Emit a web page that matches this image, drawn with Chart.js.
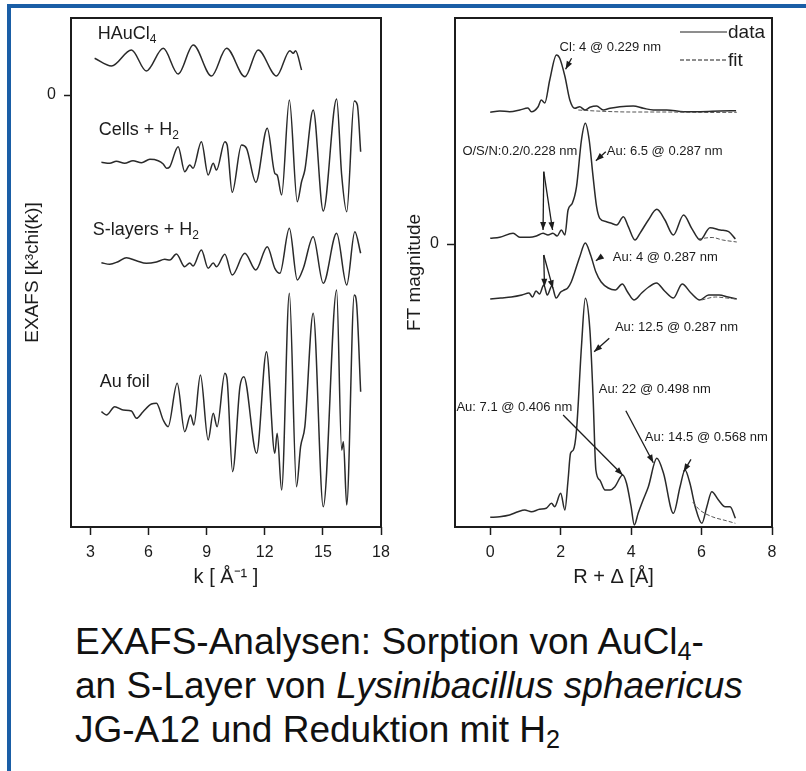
<!DOCTYPE html>
<html>
<head>
<meta charset="utf-8">
<script src="https://cdn.jsdelivr.net/npm/chart.js@4.4.1/dist/chart.umd.min.js"></script>
<style>
  body { margin: 0; background: #fff; }
  #page { position: relative; width: 806px; height: 771px; overflow: hidden; background: #fff; }
  .blue { position: absolute; background: #1a5ea6; }
  canvas { position: absolute; top: 0; }
  #cap { position: absolute; left: 75px; top: 620px; font: 37px/44px "Liberation Sans", Arial, sans-serif; color: #111; white-space: nowrap; }
  #cap sub { font-size: 0.68em; vertical-align: -0.22em; line-height: 0; }
</style>
</head>
<body>
<div id="page">
  <div class="blue" style="left:7px; top:4px; width:799px; height:4px;"></div>
  <div class="blue" style="left:7px; top:4px; width:4px; height:767px;"></div>
  <canvas id="exafs" width="400" height="600" style="left:0"></canvas>
  <canvas id="ft" width="406" height="600" style="left:400px"></canvas>
  <div id="cap">EXAFS-Analysen: Sorption von AuCl<sub>4</sub>-<br>an S-Layer von <i>Lysinibacillus sphaericus</i><br>JG-A12 und Reduktion mit H<sub>2</sub></div>
</div>
<script>
// EXAFS k^3 chi(k), curves stacked with offsets (arbitrary units, 0 = tick)
const kTicks = [3, 6, 9, 12, 15, 18];
const exafsHAuCl4 = [[3.22,36.7],[4.09,29],[5.12,45],[5.89,24],[6.76,46.7],[7.53,21],[8.31,50],[9.25,19],[10.03,46.7],[10.98,18.3],[11.66,45],[12.61,19],[13.30,44.3],[13.47,41.7],[13.59,44.3],[13.90,25]];
const exafsCells = [[3.57,-67.3],[4.0,-68.3],[4.34,-66.3],[4.77,-68.3],[5.2,-65.7],[5.64,-67.7],[6.07,-64.3],[6.5,-65.7],[6.76,-69],[6.93,-73.3],[7.10,-71.7],[7.53,-51.7],[7.87,-76.7],[8.13,-70],[8.30,-73.3],[8.73,-46.7],[9.08,-80],[9.34,-68.3],[9.51,-75],[9.94,-46.7],[10.06,-50],[10.32,-97.3],[10.80,-50],[11.06,-53.3],[11.54,-87.3],[12.13,-33.3],[12.52,-78.3],[12.64,-80],[12.87,-100],[13.27,-5],[13.68,-106.7],[13.90,-86.7],[14.07,-75],[14.50,-15],[15.02,-116],[15.71,-4],[15.97,-80],[16.23,-116.7],[16.62,-6],[16.78,-10],[16.95,-56.7]];
const exafsSlayers = [[3.57,-167.7],[4.0,-169.3],[4.43,-166.7],[4.86,-162.7],[5.38,-165.7],[5.89,-168.3],[6.41,-167],[6.84,-164.3],[7.10,-165],[7.44,-159],[7.87,-171.7],[8.13,-168],[8.30,-171],[8.73,-155],[9.08,-173.3],[9.34,-168],[9.51,-171.7],[9.94,-159.3],[10.32,-180],[10.97,-158.3],[11.54,-175],[12.13,-151.7],[12.52,-173.3],[12.78,-178.3],[13.27,-133.3],[13.68,-185],[13.99,-173.3],[14.50,-141.7],[15.02,-188.3],[15.71,-138.3],[16.23,-190],[16.65,-136.7],[16.95,-158.3]];
const exafsAuFoil = [[3.57,-316.7],[3.83,-320],[4.26,-311.7],[4.69,-315],[5.12,-316],[5.38,-323.3],[5.72,-316.7],[6.15,-309],[6.41,-308.3],[6.76,-325],[7.01,-331.7],[7.48,-288.3],[7.87,-336.7],[8.17,-320],[8.34,-330],[8.68,-280],[9.08,-345],[9.34,-318.3],[9.54,-331.7],[9.94,-278.3],[10.06,-285],[10.34,-376.7],[10.72,-291.7],[10.92,-281.7],[11.58,-358.3],[12.09,-256.7],[12.52,-358.3],[12.64,-338.3],[12.87,-395],[13.27,-198.3],[13.64,-391.7],[13.85,-351.7],[14.07,-331.7],[14.50,-218.3],[15.02,-411.7],[15.71,-195],[15.97,-355],[16.06,-346.7],[16.23,-410],[16.62,-200],[16.74,-208.3],[16.95,-296.7]];

// FT magnitude vs R + delta
const rTicks = [0, 2, 4, 6, 8];
const ftHAuCl4 = [[0,131.7],[0.27,133],[0.55,132.3],[0.84,134],[1.07,136],[1.17,132.3],[1.36,137.3],[1.45,144],[1.55,141],[1.69,164],[1.88,189],[1.97,186],[2.12,167.7],[2.26,144],[2.40,135.7],[2.54,137.3],[2.69,134],[2.83,136.7],[3.02,138],[3.21,134],[3.40,135.7],[3.68,137.3],[4.06,138],[4.35,135.7],[4.63,134],[5.01,134],[5.49,132.3],[5.96,132.3],[6.53,133],[6.98,133.3]];
const ftCells = [[0,5.7],[0.27,6.7],[0.65,10.7],[0.84,6.7],[1.12,6.7],[1.31,8],[1.50,10.7],[1.64,9],[1.78,10.7],[1.9,8],[2.02,14],[2.12,9],[2.21,34],[2.33,40.7],[2.45,57.3],[2.59,104],[2.70,120.7],[2.81,104],[2.92,67.3],[3.02,37.3],[3.11,25.7],[3.30,22.3],[3.44,20.7],[3.59,19],[3.78,27.3],[3.92,17.3],[4.11,4],[4.25,10.7],[4.49,24],[4.73,34.7],[4.96,24],[5.20,9],[5.49,29],[5.72,15.7],[5.96,4],[6.24,16.3],[6.53,14],[6.77,12.3],[6.96,5]];
const ftSlayers = [[0,-55],[0.3,-54],[0.6,-53],[0.9,-51],[1.1,-49],[1.2,-53],[1.3,-47],[1.4,-50],[1.52,-41],[1.62,-51],[1.75,-42],[1.87,-54],[2.0,-48],[2.1,-46],[2.2,-44],[2.3,-38],[2.4,-28],[2.54,-13],[2.7,1],[2.85,-11],[3.0,-28],[3.15,-38],[3.35,-44],[3.55,-46],[3.75,-40],[3.9,-48],[4.08,-56],[4.3,-49],[4.5,-43],[4.72,-39],[4.95,-47],[5.2,-54],[5.45,-40],[5.7,-49],[5.95,-56],[6.2,-51],[6.5,-51],[6.75,-53],[7.0,-55]];
const ftAuFoil = [[0,-273.3],[0.27,-272.7],[0.55,-271],[0.79,-267.7],[0.98,-266],[1.17,-267.7],[1.40,-265.3],[1.59,-264.3],[1.74,-259.3],[1.83,-262.7],[2.0,-249.3],[2.12,-266],[2.21,-236],[2.28,-209.3],[2.36,-206],[2.45,-186],[2.59,-102.7],[2.70,-54.3],[2.83,-86],[2.92,-152.7],[3.0,-226],[3.11,-236],[3.26,-246],[3.40,-246],[3.54,-242.7],[3.76,-231],[3.87,-239.3],[4.0,-262.7],[4.09,-281],[4.20,-269.3],[4.34,-256],[4.49,-242.7],[4.73,-214.3],[4.92,-229.3],[5.20,-269.3],[5.39,-242.7],[5.53,-226],[5.67,-239.3],[5.82,-262.7],[6.01,-279.3],[6.15,-262.7],[6.29,-247.7],[6.48,-256],[6.67,-262.7],[6.81,-262.7],[6.96,-274.3]];
// fits where they separate from the data
const fitHAuCl4 = [[2.5,134],[3.0,133],[4.0,132],[5.0,132],[6.0,131.5],[7.0,131.7]];
const fitCells = [[5.9,5],[6.3,6.5],[6.6,4],[7.0,2]];
const fitSlayers = [[6.0,-56],[6.4,-53],[6.7,-54],[7.0,-55]];
const fitAuFoil = [[5.75,-258],[5.95,-266],[6.3,-272.7],[6.7,-276.7],[6.96,-279.3]];

// text and arrows, in data coordinates
const exafsLabels = [[3.38, 62, 'HAuCl_4'], [3.43, -34, 'Cells + H_2'], [3.12, -134, 'S-layers + H_2'], [3.48, -286, 'Au foil']];
const ftLabels = [[1.97, 197.3, 'Cl: 4 @ 0.229 nm'], [-0.79, 94, 'O/S/N:0.2/0.228 nm'], [3.31, 94, 'Au: 6.5 @ 0.287 nm'], [3.48, -12.7, 'Au: 4 @ 0.287 nm'], [3.54, -82.7, 'Au: 12.5 @ 0.287 nm'], [3.08, -144.3, 'Au: 22 @ 0.498 nm'], [-0.96, -162, 'Au: 7.1 @ 0.406 nm'], [4.39, -192, 'Au: 14.5 @ 0.568 nm']];
const ftArrows = [[2.31,185.7,2.14,174.7],[1.52,72.3,1.50,14],[1.52,72.3,1.77,14],[3.28,92.3,3.0,83.3],[1.52,-11,1.54,-42.7],[1.52,-11,1.78,-44.3],[3.16,-12.7,3.0,-16.7],[3.38,-94.3,2.95,-107.7],[2.07,-171,3.76,-231],[3.85,-166.7,4.63,-218.7],[5.70,-215.3,5.49,-227.7]];

const FONT = '"Liberation Sans", Arial, sans-serif';
const INK = '#1c1c1c';
Chart.defaults.font.family = FONT;
Chart.defaults.color = INK;

function rich(ctx, x, y, str, size) {
  const parts = str.split('_');
  const base = y + size * 0.36;
  ctx.font = size + 'px ' + FONT;
  ctx.fillText(parts[0], x, base);
  x += ctx.measureText(parts[0]).width;
  parts.slice(1).forEach(p => {
    const sub = p[0], rest = p.slice(1);
    ctx.font = Math.round(size * 0.65) + 'px ' + FONT;
    ctx.fillText(sub, x, base + size * 0.22);
    x += ctx.measureText(sub).width;
    ctx.font = size + 'px ' + FONT;
    ctx.fillText(rest, x, base);
    x += ctx.measureText(rest).width;
  });
}

function arrow(ctx, x1, y1, x2, y2) {
  ctx.beginPath(); ctx.moveTo(x1, y1); ctx.lineTo(x2, y2); ctx.stroke();
  const a = Math.atan2(y2 - y1, x2 - x1), L = 8, W = 3;
  ctx.beginPath();
  ctx.moveTo(x2, y2);
  ctx.lineTo(x2 - L * Math.cos(a) + W * Math.sin(a), y2 - L * Math.sin(a) - W * Math.cos(a));
  ctx.lineTo(x2 - L * Math.cos(a) - W * Math.sin(a), y2 - L * Math.sin(a) + W * Math.cos(a));
  ctx.closePath(); ctx.fill();
}

function notes(labels, labelSize, arrows, legend) {
  return {
    id: 'notes',
    afterDatasetsDraw(chart) {
      const {ctx, chartArea: a, scales: {x, y}} = chart;
      ctx.save();
      ctx.strokeStyle = INK; ctx.fillStyle = INK;
      ctx.lineWidth = 2;
      ctx.strokeRect(a.left, a.top, a.right - a.left, a.bottom - a.top);
      ctx.lineWidth = 1.3;
      arrows.forEach(r => arrow(ctx, x.getPixelForValue(r[0]), y.getPixelForValue(r[1]), x.getPixelForValue(r[2]), y.getPixelForValue(r[3])));
      ctx.textAlign = 'left';
      labels.forEach(l => rich(ctx, x.getPixelForValue(l[0]), y.getPixelForValue(l[1]), l[2], labelSize));
      if (legend) {
        ctx.lineWidth = 1;
        ctx.beginPath(); ctx.moveTo(a.right - 92, a.top + 14); ctx.lineTo(a.right - 45, a.top + 14); ctx.stroke();
        ctx.setLineDash([4, 2]);
        ctx.beginPath(); ctx.moveTo(a.right - 92, a.top + 42); ctx.lineTo(a.right - 45, a.top + 42); ctx.stroke();
        ctx.setLineDash([]);
        rich(ctx, a.right - 44, a.top + 13, 'data', 19);
        rich(ctx, a.right - 44, a.top + 41, 'fit', 19);
      }
      ctx.restore();
    }
  };
}

function line(data) {
  return { data: data.map(p => ({x: p[0], y: p[1]})), showLine: true, pointRadius: 0, borderColor: '#2a2a2a', borderWidth: 1.5, cubicInterpolationMode: 'monotone' };
}
function fit(data) {
  return { data: data.map(p => ({x: p[0], y: p[1]})), showLine: true, pointRadius: 0, borderColor: '#555', borderWidth: 1, borderDash: [4, 2], cubicInterpolationMode: 'monotone' };
}

function axes(xmin, xmax, xTicks, xTitle, ymin, ymax, yWidth, yTick, yTitle, yTitlePad) {
  return {
    x: {
      type: 'linear', position: 'bottom', min: xmin, max: xmax,
      afterBuildTicks: s => { s.ticks = xTicks.map(v => ({value: v})); },
      afterFit: s => { s.height = 73; },
      grid: { drawOnChartArea: false, drawTicks: true, tickLength: 8, tickColor: INK, tickWidth: 1.5 },
      border: { display: false },
      ticks: { font: { size: 16 }, color: INK, padding: 8, maxRotation: 0 },
      title: { display: true, text: xTitle, font: { size: 20 }, color: INK, padding: { top: 0, bottom: 11 } }
    },
    y: {
      type: 'linear', min: ymin, max: ymax,
      afterBuildTicks: s => { s.ticks = [{value: 0}]; },
      afterFit: s => { s.width = yWidth; },
      grid: { drawOnChartArea: false, drawTicks: true, tickLength: yTick, tickColor: INK, tickWidth: 1.5 },
      border: { display: false },
      ticks: { font: { size: 16 }, color: INK, padding: 8 },
      title: { display: true, text: yTitle, font: { size: 19 }, color: INK, padding: { top: yTitlePad, bottom: 0 } }
    }
  };
}

new Chart(document.getElementById('exafs'), {
  type: 'scatter',
  data: { datasets: [line(exafsHAuCl4), line(exafsCells), line(exafsSlayers), line(exafsAuFoil)] },
  options: {
    responsive: false, animation: false, devicePixelRatio: 1,
    layout: { padding: { left: 0, top: 18, right: 19, bottom: 0 } },
    plugins: { legend: { display: false }, tooltip: { enabled: false } },
    scales: axes(2, 18, kTicks, 'k [ Å⁻¹ ]', -432, 77, 71, 7, 'EXAFS [k³chi(k)]', 21.6)
  },
  plugins: [notes(exafsLabels, 18, [], false)]
});

new Chart(document.getElementById('ft'), {
  type: 'scatter',
  data: { datasets: [fit(fitHAuCl4), fit(fitCells), fit(fitSlayers), fit(fitAuFoil), line(ftHAuCl4), line(ftCells), line(ftSlayers), line(ftAuFoil)] },
  options: {
    responsive: false, animation: false, devicePixelRatio: 1,
    layout: { padding: { left: 0, top: 18, right: 34, bottom: 0 } },
    plugins: { legend: { display: false }, tooltip: { enabled: false } },
    scales: axes(-1, 8, rTicks, 'R + Δ [Å]', -283, 226, 55, 8, 'FT magnitude', 3.6)
  },
  plugins: [notes(ftLabels, 13, ftArrows, true)]
});
</script>
</body>
</html>
